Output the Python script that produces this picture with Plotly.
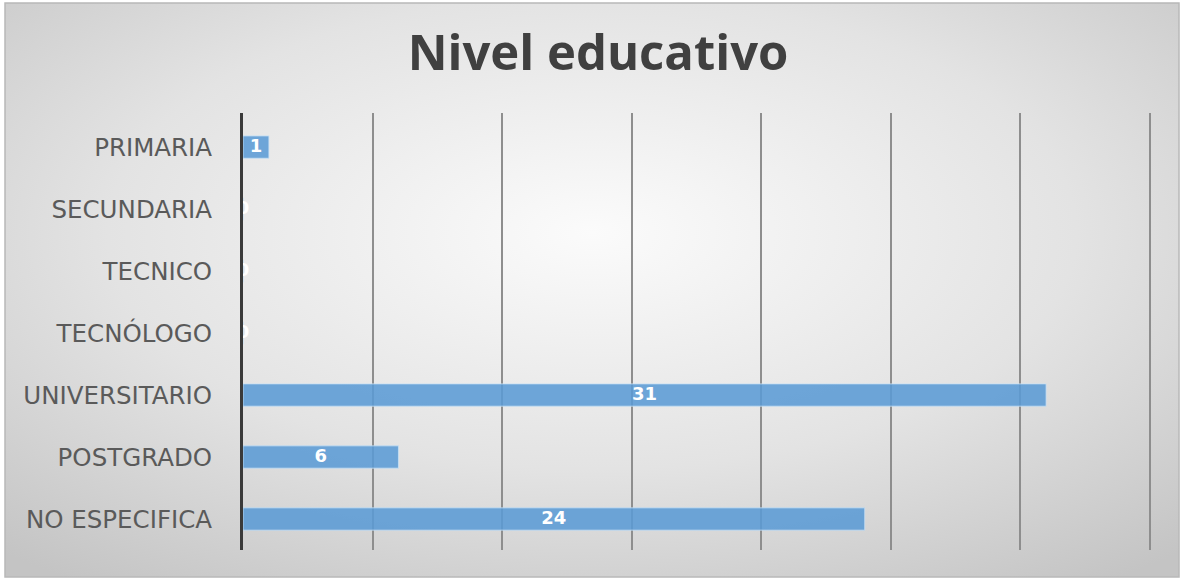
import base64
import plotly.graph_objects as go

categories = ["PRIMARIA", "SECUNDARIA", "TECNICO", "TECNÓLOGO",
              "UNIVERSITARIO", "POSTGRADO", "NO ESPECIFICA"]
values = [1, 0, 0, 0, 31, 6, 24]
title_text = "Nivel educativo"

W, H = 1182, 579
ml, mr, mt, mb = 243, 31, 113, 29
pw, ph = W - ml - mr, H - mt - mb

svg = f'''<svg xmlns="http://www.w3.org/2000/svg" width="{W}" height="{H}" viewBox="0 0 {W} {H}">
<defs><radialGradient id="g" cx="50%" cy="40%" r="75%">
<stop offset="0%" stop-color="#fbfbfb"/><stop offset="55%" stop-color="#e3e3e3"/>
<stop offset="100%" stop-color="#c4c4c4"/></radialGradient></defs>
<rect x="0" y="0" width="{W}" height="{H}" fill="#ffffff"/>
<rect x="5" y="3" width="{W-8}" height="{H-5}" fill="url(#g)" stroke="#b8b8b8" stroke-width="1.5"/>
</svg>'''
src = "data:image/svg+xml;base64," + base64.b64encode(svg.encode()).decode()

fig = go.Figure()
fig.add_trace(go.Bar(
    y=categories, x=values, orientation="h", width=0.36,
    marker=dict(color="rgba(91,155,213,0.88)", line=dict(color="rgba(200,225,245,0.8)", width=1)),
    hoverinfo="skip", showlegend=False,
))
fig.add_trace(go.Scatter(
    y=categories, x=[v / 2 for v in values], mode="text",
    text=[str(v) for v in values], textposition="middle center",
    textfont=dict(family="DejaVu Sans", size=18, color="white", weight="bold"),
    hoverinfo="skip", showlegend=False,
))

fig.update_layout(
    width=W, height=H,
    margin=dict(l=ml, r=mr, t=mt, b=mb, pad=0),
    paper_bgcolor="#ffffff", plot_bgcolor="rgba(0,0,0,0)",
    title=dict(text=title_text, x=598 / W, xanchor="center", y=1 - 53 / H, yanchor="middle",
               font=dict(family="Open Sans", size=49, color="#404040", weight="bold")),
    images=[dict(source=src, xref="paper", yref="paper",
                 x=-ml / pw, y=1 + mt / ph, sizex=W / pw, sizey=H / ph,
                 xanchor="left", yanchor="top", sizing="stretch", layer="below")],
    xaxis=dict(range=[0, 35.05], dtick=5, tick0=0, showgrid=True, gridcolor="#8e8e8e",
               gridwidth=2, zeroline=False, showticklabels=False, showline=False, fixedrange=True),
    yaxis=dict(range=[6.5, -0.55], showgrid=False, zeroline=False, showline=True,
               linecolor="#3a3a3a", linewidth=3, ticks="outside", ticklen=23,
               tickcolor="rgba(0,0,0,0)",
               tickfont=dict(family="DejaVu Sans", size=24.5, color="#5a5a5a")),
    bargap=0.6,
)

fig.write_html("out.html", config={"displayModeBar": False},
               post_script="document.body.style.margin='0';document.body.style.overflow='hidden';")
